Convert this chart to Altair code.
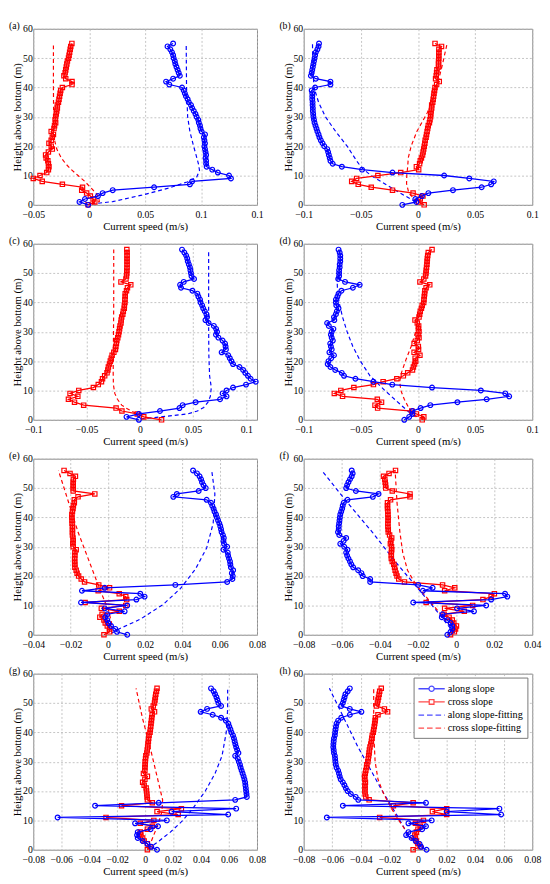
import altair as alt
import pandas as pd

FONT = "Liberation Serif, Times New Roman, serif"
BLUE = "#0000ff"
RED = "#ff0000"
Y_TICKS = [0, 10, 20, 30, 40, 50, 60]

# ---------------- panel (a) ----------------
A_H = list(range(0, 56))
A_ALONG = [-0.001, -0.0087, -0.0038, 0.0078, 0.012, 0.021, 0.058, 0.090, 0.092, 0.1267,
           0.125, 0.115, 0.110, 0.105, 0.1045, 0.1045, 0.104, 0.1045, 0.104, 0.1035,
           0.103, 0.1035, 0.103, 0.1025, 0.1035, 0.1005, 0.0995, 0.099, 0.098, 0.0975,
           0.096, 0.095, 0.0935, 0.092, 0.091, 0.089, 0.088, 0.0865, 0.0855, 0.0845,
           0.083, 0.0716, 0.0687, 0.075, 0.081, 0.080, 0.079, 0.078, 0.077, 0.0765,
           0.0755, 0.075, 0.074, 0.0725, 0.070, 0.075]
A_CROSS = [-0.001, 0.005, 0.0035, 0.001, -0.0023, -0.0067, -0.006, -0.024, -0.042, -0.050,
           -0.044, -0.038, -0.0365, -0.036, -0.0365, -0.037, -0.0385, -0.039, -0.0365, -0.033,
           -0.034, -0.036, -0.034, -0.033, -0.032, -0.034, -0.0315, -0.031, -0.030, -0.0305,
           -0.030, -0.0295, -0.029, -0.0285, -0.0285, -0.0275, -0.027, -0.0265, -0.026, -0.0255,
           -0.024, -0.0154, -0.0154, -0.021, -0.0226, -0.0215, -0.021, -0.0205, -0.020, -0.0195,
           -0.0185, -0.018, -0.0175, -0.017, -0.0165, -0.0155]
A_FA_H = [0.3, 1.1, 3.3, 5.6, 7.8, 9.4, 11.7, 13.9, 17, 20, 25, 30, 40, 55]
A_FA = [0.002, 0.021, 0.047, 0.070, 0.0875, 0.096, 0.0986, 0.0977, 0.0955, 0.0933, 0.090, 0.088, 0.087, 0.0867]
A_FC_H = [0.3, 1.1, 2.5, 4, 6, 8, 10, 12, 14, 16, 19, 22, 30, 40, 55]
A_FC = [0.002, 0.009, 0.0085, 0.006, 0.001, -0.004, -0.010, -0.016, -0.021, -0.025, -0.029, -0.031, -0.0318, -0.032, -0.032]
A_XDOM = [-0.05, 0.15]
A_XTICKS = [-0.05, 0, 0.05, 0.1, 0.15]

# ---------------- panel (b) ----------------
B_H = list(range(0, 56))
B_ALONG = [-0.0137, -0.0014, -0.0023, 0.0034, 0.0091, 0.0306, 0.0557, 0.064, 0.0663, 0.0449,
           0.0229, -0.0223, -0.0489, -0.0666, -0.0746, -0.0766, -0.0772, -0.078, -0.0786, -0.0794,
           -0.082, -0.0835, -0.085, -0.0862, -0.087, -0.088, -0.0888, -0.0897, -0.0905, -0.091,
           -0.0915, -0.0917, -0.092, -0.092, -0.0922, -0.0922, -0.0925, -0.0925, -0.0925, -0.093,
           -0.090, -0.0766, -0.0766, -0.0894, -0.0937, -0.093, -0.0925, -0.092, -0.0915, -0.091,
           -0.0905, -0.090, -0.0894, -0.088, -0.087, -0.0866]
B_CROSS = [0.0054, 0.0006, 0.002, 0.0043, -0.0043, -0.0223, -0.0409, -0.0523, -0.058, -0.0537,
           -0.0351, -0.0151, 0.0006, -0.0014, 0.0014, 0.002, 0.003, 0.004, 0.0045, 0.005,
           0.0055, 0.006, 0.0063, 0.0071, 0.0075, 0.008, 0.0085, 0.009, 0.010, 0.0105,
           0.011, 0.0112, 0.0115, 0.012, 0.012, 0.0129, 0.0133, 0.0137, 0.014, 0.0145,
           0.0149, 0.0163, 0.0186, 0.0154, 0.016, 0.0163, 0.0166, 0.018, 0.018, 0.018,
           0.0182, 0.0182, 0.0183, 0.0183, 0.0206, 0.0149]
B_FA_H = [1, 3, 6, 10, 12.5, 15, 20, 25, 30, 35, 40, 47, 55]
B_FA = [-0.002, -0.011, -0.024, -0.041, -0.049, -0.0537, -0.062, -0.072, -0.081, -0.087, -0.091, -0.092, -0.0923]
B_FC_H = [1, 2.2, 4, 7.2, 10, 13, 16, 20, 25, 31.5, 37, 42.5, 48, 55]
B_FC = [-0.001, -0.0037, -0.008, -0.010, -0.0098, -0.009, -0.0085, -0.006, -0.001, 0.0083, 0.0135, 0.018, 0.0215, 0.0255]
B_XDOM = [-0.1, 0.1]
B_XTICKS = [-0.1, -0.05, 0, 0.05, 0.1]

# ---------------- panel (c) ----------------
C_H = list(range(0, 59))
C_ALONG = [-0.0009, -0.0125, -0.0009, 0.0189, 0.0372, 0.0402, 0.0524, 0.0753, 0.0814, 0.0777,
           0.0814, 0.0875, 0.0997, 0.1088, 0.104, 0.1015, 0.099, 0.097, 0.0936, 0.0875,
           0.086, 0.0845, 0.083, 0.0768, 0.0808, 0.0805, 0.080, 0.0777, 0.0738, 0.0715,
           0.0725, 0.0716, 0.0695, 0.0646, 0.0616, 0.0631, 0.0625, 0.061, 0.0595, 0.0585,
           0.057, 0.0565, 0.055, 0.054, 0.0494, 0.0387, 0.0378, 0.0412, 0.0509, 0.0485,
           0.048, 0.0475, 0.047, 0.046, 0.045, 0.0445, 0.0435, 0.0418, 0.0396]
C_CROSS = [0.0204, 0.0037, -0.0024, -0.0168, -0.0223, -0.0527, -0.0613, -0.067, -0.0582, -0.0655,
           -0.0573, -0.0436, -0.039, -0.036, -0.035, -0.033, -0.0308, -0.030, -0.0295, -0.0285,
           -0.0277, -0.0268, -0.026, -0.0244, -0.0229, -0.0225, -0.022, -0.0216, -0.0207, -0.020,
           -0.0195, -0.019, -0.0186, -0.0177, -0.0175, -0.017, -0.016, -0.0155, -0.0146, -0.0145,
           -0.014, -0.014, -0.0137, -0.0137, -0.0125, -0.0116, -0.0085, -0.0177, -0.013, -0.0125,
           -0.0122, -0.0122, -0.012, -0.012, -0.012, -0.012, -0.012, -0.012, -0.0122]
C_FA_H = [0.3, 1, 2, 3, 4.2, 6, 8, 11, 15, 22, 32, 45, 58]
C_FA = [0.001, 0.02, 0.0448, 0.054, 0.060, 0.064, 0.0662, 0.0671, 0.0655, 0.0648, 0.0646, 0.0646, 0.0646]
C_FC_H = [0.5, 1, 2, 3, 4, 5, 7, 9, 12, 16, 25, 40, 58]
C_FC = [0.008, 0.004, -0.002, -0.008, -0.013, -0.017, -0.021, -0.0235, -0.0248, -0.025, -0.0248, -0.0245, -0.0245]
C_XDOM = [-0.1, 0.11]
C_XTICKS = [-0.1, -0.05, 0, 0.05, 0.1]

# ---------------- panel (d) ----------------
D_H = list(range(0, 59))
D_ALONG = [-0.012, -0.0077, -0.0048, -0.0048, 0.0023, 0.0108, 0.0345, 0.0601, 0.0798, 0.0764,
           0.055, 0.0123, -0.0225, -0.039, -0.0547, -0.0647, -0.0667, -0.0724, -0.0766, -0.079,
           -0.0783, -0.076, -0.0735, -0.0775, -0.0755, -0.0762, -0.0768, -0.0745, -0.0755, -0.0762,
           -0.0755, -0.074, -0.078, -0.0795, -0.0732, -0.0735, -0.0718, -0.071, -0.0695, -0.0715,
           -0.0718, -0.0718, -0.0705, -0.0695, -0.067, -0.057, -0.051, -0.0638, -0.0698, -0.069,
           -0.069, -0.069, -0.0685, -0.0685, -0.068, -0.068, -0.068, -0.0685, -0.0695]
D_CROSS = [0.0037, 0.0051, -0.0014, -0.0054, -0.0353, -0.0376, -0.0319, -0.0356, -0.066, -0.0732,
           -0.0675, -0.0561, -0.039, -0.0305, -0.0185, -0.0128, -0.009, -0.0048, -0.004, -0.003,
           -0.002, -0.0025, 0.0017, -0.0034, 0.0005, 0.0003, -0.0034, -0.0006, 0.0009, 0.0,
           0.0009, 0.0003, 0.0006, -0.0006, -0.0026, 0.0009, 0.0015, 0.002, 0.003, 0.0037,
           0.005, 0.0052, 0.0055, 0.0058, 0.006, 0.0071, 0.0103, 0.0017, 0.0051, 0.0066,
           0.007, 0.0072, 0.0075, 0.0078, 0.008, 0.0082, 0.0085, 0.009, 0.0123]
D_FA_H = [1, 2, 5, 10, 15, 20, 25, 30, 35, 40, 45, 50]
D_FA = [-0.002, -0.006, -0.0148, -0.029, -0.042, -0.0504, -0.057, -0.062, -0.066, -0.069, -0.0705, -0.071]
D_FC_H = [1, 2, 4, 7, 10, 13, 16, 20, 25, 30, 36]
D_FC = [-0.001, -0.004, -0.008, -0.012, -0.015, -0.016, -0.0145, -0.011, -0.006, -0.002, 0.001]
D_XDOM = [-0.1, 0.1]
D_XTICKS = [-0.1, -0.05, 0, 0.05, 0.1]

# ---------------- panel (e) ----------------
E_H = list(range(0, 57))
E_ALONG = [0.0104, 0.0049, 0.004, 0.0017, 0.0003, -0.0003, -0.0014, -0.0003, 0.009, -0.0017,
           0.0104, -0.0144, 0.0153, 0.0197, 0.0174, -0.0139, -0.0017, 0.0362, 0.064, 0.0668,
           0.067, 0.0665, 0.0672, 0.066, 0.0657, 0.0655, 0.065, 0.0645, 0.0643, 0.062,
           0.064, 0.0623, 0.062, 0.0622, 0.0617, 0.061, 0.0607, 0.0603, 0.0598, 0.0591,
           0.0585, 0.058, 0.0572, 0.0567, 0.056, 0.0553, 0.053, 0.0351, 0.037, 0.0487,
           0.0525, 0.0513, 0.0505, 0.050, 0.0492, 0.0478, 0.0457]
E_CROSS = [-0.0021, 0.0009, 0.0009, -0.0003, -0.0014, -0.0021, -0.0043, -0.0031, 0.0061, -0.0035,
           0.0096, -0.0122, 0.0101, 0.0096, 0.0061, -0.0052, 0.0009, -0.0049, -0.0125, -0.0143,
           -0.0157, -0.0165, -0.017, -0.0177, -0.0177, -0.0178, -0.0178, -0.0177, -0.0177, -0.017,
           -0.0186, -0.0188, -0.0186, -0.0187, -0.019, -0.019, -0.019, -0.019, -0.0192, -0.0192,
           -0.0193, -0.0193, -0.019, -0.0187, -0.0185, -0.018, -0.018, -0.016, -0.007, -0.0186,
           -0.0186, -0.0186, -0.0186, -0.0185, -0.0174, -0.0203, -0.0235]
E_FA_H = [0.5, 2, 5.3, 10.3, 15.8, 22.4, 29.6, 38, 48, 56]
E_FA = [0.002, 0.006, 0.0174, 0.0296, 0.039, 0.047, 0.053, 0.0565, 0.0574, 0.0557]
E_FC_H = [1, 4, 8, 15, 25, 35, 45, 56]
E_FC = [0.002, 0.002, 0.0005, -0.004, -0.010, -0.016, -0.021, -0.0265]
E_XDOM = [-0.04, 0.08]
E_XTICKS = [-0.04, -0.02, 0, 0.02, 0.04, 0.06, 0.08]

# ---------------- panel (f) ----------------
F_H = list(range(0, 57))
F_ALONG = [-0.0046, -0.0029, -0.002, -0.002, -0.0029, -0.0046, -0.0075, -0.0071, 0.0094, 0.0005,
           0.0158, -0.0225, 0.0184, 0.0269, 0.0257, -0.0174, -0.0123, -0.0199, -0.0451, -0.0451,
           -0.049, -0.0497, -0.0514, -0.054, -0.055, -0.0557, -0.0565, -0.0572, -0.0577, -0.057,
           -0.0587, -0.0608, -0.059, -0.0577, -0.0613, -0.062, -0.0616, -0.0616, -0.0614, -0.0612,
           -0.061, -0.0608, -0.0603, -0.0598, -0.0595, -0.059, -0.057, -0.0437, -0.0407, -0.0526,
           -0.0577, -0.0572, -0.0565, -0.0557, -0.0548, -0.0543, -0.0548]
F_CROSS = [-0.0029, -0.0009, -0.0003, 0.0002, -0.0012, -0.002, -0.0037, -0.0063, 0.0043, -0.006,
           0.0087, -0.0157, 0.0141, 0.0184, 0.0201, -0.006, -0.0007, -0.0071, -0.0271, -0.0301,
           -0.031, -0.0315, -0.032, -0.0323, -0.0327, -0.0335, -0.034, -0.034, -0.034, -0.0338,
           -0.0339, -0.0345, -0.0342, -0.0338, -0.0349, -0.0356, -0.0356, -0.0358, -0.0358, -0.0357,
           -0.0357, -0.0358, -0.0358, -0.036, -0.036, -0.036, -0.0344, -0.0242, -0.0242, -0.0335,
           -0.0369, -0.037, -0.0372, -0.0374, -0.0381, -0.0352, -0.0318]
F_FA_H = [0.5, 3, 8, 15, 25, 35, 45, 56]
F_FA = [-0.0005, -0.004, -0.010, -0.019, -0.032, -0.044, -0.057, -0.0705]
F_FC_H = [1, 3, 7, 12, 17, 22, 28, 35, 45, 56]
F_FC = [-0.001, -0.003, -0.008, -0.0145, -0.021, -0.0255, -0.028, -0.0295, -0.031, -0.032]
F_XDOM = [-0.08, 0.04]
F_XTICKS = [-0.08, -0.06, -0.04, -0.02, 0, 0.02, 0.04]

# ---------------- panel (g) ----------------
G_H = list(range(0, 56))
G_ALONG = [0.0085, 0.0044, 0.0016, -0.0018, -0.0053, -0.0058, -0.0053, 0.0039, 0.0092, -0.0072,
           0.0155, -0.0626, 0.0594, 0.0189, 0.0651, -0.0358, 0.0097, 0.0644, 0.0727, 0.0725,
           0.0722, 0.072, 0.0717, 0.0715, 0.071, 0.0704, 0.0697, 0.069, 0.0683, 0.0678,
           0.067, 0.0663, 0.0644, 0.0667, 0.0658, 0.0651, 0.0645, 0.064, 0.0635, 0.0628,
           0.0617, 0.061, 0.0602, 0.0595, 0.0577, 0.0543, 0.0483, 0.0397, 0.0443, 0.0543,
           0.0524, 0.0517, 0.051, 0.050, 0.049, 0.0471]
G_CROSS = [0.0016, 0.0035, 0.0016, -0.0007, -0.0018, -0.003, -0.0035, 0.0016, 0.0051, -0.0035,
           0.0062, -0.028, 0.0236, 0.0085, 0.0259, -0.0169, 0.0051, 0.0016, 0.0014, 0.0012,
           0.001, 0.0007, -0.0007, -0.0018, -0.0002, 0.0016, -0.0012, -0.0002, -0.0002, 0.0,
           0.0, 0.0003, 0.0005, 0.0012, 0.0015, 0.0018, 0.002, 0.0023, 0.0025, 0.0028,
           0.0035, 0.0037, 0.004, 0.0042, 0.0045, 0.0047, 0.005, 0.0067, 0.0044, 0.0058,
           0.0067, 0.007, 0.0073, 0.0076, 0.0081, 0.0085]
G_FA_H = [0.3, 3, 6, 10, 14, 20, 26, 32, 40, 48, 55]
G_FA = [0.002, 0.010, 0.018, 0.027, 0.034, 0.043, 0.050, 0.055, 0.058, 0.059, 0.059]
G_FC_H = [1, 3, 6, 9, 13, 17, 22, 28, 35, 45, 55]
G_FC = [0.002, 0.0045, 0.007, 0.0095, 0.012, 0.0125, 0.010, 0.007, 0.0035, -0.002, -0.0065]
G_XDOM = [-0.08, 0.08]
G_XTICKS = [-0.08, -0.06, -0.04, -0.02, 0, 0.02, 0.04, 0.06, 0.08]

# ---------------- panel (h) ----------------
H_H = list(range(0, 56))
H_ALONG = [0.006, 0.0022, 0.0011, -0.0016, -0.0045, -0.0083, -0.0067, 0.0029, 0.0056, -0.0067,
           0.0096, -0.0638, 0.0582, 0.0201, 0.057, -0.0526, 0.0056, -0.0418, -0.0436, -0.047,
           -0.0492, -0.0505, -0.0515, -0.0526, -0.0541, -0.0548, -0.0553, -0.0559, -0.057, -0.0575,
           -0.0578, -0.058, -0.0582, -0.0588, -0.059, -0.0593, -0.0592, -0.059, -0.0588, -0.0582,
           -0.058, -0.0577, -0.0574, -0.057, -0.0559, -0.0537, -0.0477, -0.0396, -0.0477, -0.0537,
           -0.0526, -0.052, -0.0514, -0.0508, -0.0492, -0.0477]
H_CROSS = [-0.0034, 0.0016, 0.0, -0.0011, -0.0018, -0.0022, -0.0011, 0.0, 0.0016, -0.0018,
           0.0038, -0.0268, 0.0201, 0.0101, 0.0201, -0.0172, -0.0034, -0.0342, -0.0365, -0.037,
           -0.0372, -0.037, -0.0372, -0.0368, -0.0372, -0.0374, -0.0369, -0.0365, -0.036, -0.0358,
           -0.0351, -0.0348, -0.0345, -0.0342, -0.034, -0.0336, -0.033, -0.0326, -0.0323, -0.032,
           -0.0313, -0.031, -0.0306, -0.0303, -0.03, -0.0298, -0.028, -0.0213, -0.0235, -0.0291,
           -0.0284, -0.028, -0.0276, -0.0272, -0.0268, -0.0257]
H_FA_H = [1.4, 6, 12, 20, 28, 35, 45, 55]
H_FA = [-0.001, -0.008, -0.015, -0.025, -0.034, -0.042, -0.052, -0.062]
H_FC_H = [1.4, 5, 9, 14, 19, 24, 30, 40, 55]
H_FC = [-0.001, -0.0065, -0.012, -0.0185, -0.024, -0.028, -0.030, -0.031, -0.031]
H_XDOM = [-0.08, 0.08]
H_XTICKS = [-0.08, -0.06, -0.04, -0.02, 0, 0.02, 0.04, 0.06, 0.08]

# ---------------- legend ----------------
LEG_LABELS = ["along slope", "cross slope", "along slope-fitting", "cross slope-fitting"]
LEG_COLORS = [BLUE, RED, BLUE, RED]
P_ALONG = "M-2,0L-0.4,0M0.4,0L2,0M-0.4,0A0.4,0.4,0,1,1,0.4,0A0.4,0.4,0,1,1,-0.4,0"
P_CROSS = "M-2,0L-0.36,0M0.36,0L2,0M-0.36,-0.36L0.36,-0.36L0.36,0.36L-0.36,0.36Z"
P_FIT = "M-2,0L-1.15,0M-0.7,0L0.15,0M0.6,0L1.45,0M1.9,0L2,0"
LEG_SHAPES = [P_ALONG, P_CROSS, P_FIT, P_FIT]

PLOT_H = 181


def panel(label, h, along, cross, fah, fa, fch, fc, xdom, xticks, width, legend=False):
    xs = alt.Scale(domain=xdom, nice=False, zero=False)
    ys = alt.Scale(domain=[0, 60], nice=False, zero=False)
    xax = alt.Axis(values=xticks, format="~g", title="Current speed (m/s)")
    yax = alt.Axis(values=Y_TICKS, title="Height above bottom (m)")

    def enc(c):
        return c.encode(
            x=alt.X("v:Q", scale=xs, axis=xax),
            y=alt.Y("h:Q", scale=ys, axis=yax),
            order=alt.Order("h:Q"),
        )

    df_a = pd.DataFrame({"h": h, "v": along})
    df_c = pd.DataFrame({"h": h, "v": cross})
    df_fa = pd.DataFrame({"h": fah, "v": fa})
    df_fc = pd.DataFrame({"h": fch, "v": fc})

    layers = [
        enc(alt.Chart(df_fa).mark_line(color=BLUE, strokeDash=[4, 3], strokeWidth=1.2)),
        enc(alt.Chart(df_fc).mark_line(color=RED, strokeDash=[4, 3], strokeWidth=1.2)),
        enc(alt.Chart(df_c).mark_line(color=RED, strokeWidth=1.3)),
        enc(alt.Chart(df_c).mark_point(shape="square", color=RED, size=20, strokeWidth=1.2, filled=False, opacity=1)),
        enc(alt.Chart(df_a).mark_line(color=BLUE, strokeWidth=1.3)),
        enc(alt.Chart(df_a).mark_point(shape="circle", color=BLUE, size=24, strokeWidth=1.2, filled=False, opacity=1)),
        alt.Chart(pd.DataFrame({"t": [label]})).mark_text(
            font=FONT, fontSize=10, align="left", baseline="middle", color="black"
        ).encode(x=alt.value(-25), y=alt.value(-3), text="t:N"),
    ]
    if legend:
        leg_def = alt.Legend(
            title=None, orient="none", legendX=113, legendY=4,
            labelFont=FONT, labelFontSize=10.5, labelColor="black",
            symbolSize=182, symbolStrokeWidth=1.3, symbolOffset=7, labelOffset=9,
            padding=4, rowPadding=0.5, strokeColor="#777", fillColor="white",
        )
        leg = alt.Chart(pd.DataFrame({"s": LEG_LABELS})).transform_filter("false").mark_point(
            filled=False, strokeWidth=1.3
        ).encode(
            x=alt.value(0), y=alt.value(0),
            color=alt.Color("s:N", scale=alt.Scale(domain=LEG_LABELS, range=LEG_COLORS), legend=leg_def),
            shape=alt.Shape("s:N", scale=alt.Scale(domain=LEG_LABELS, range=LEG_SHAPES), legend=leg_def),
        )
        layers.append(leg)
    return alt.layer(*layers).properties(width=width, height=PLOT_H)


WL = 230
WR = 235
panels = [
    panel("(a)", A_H, A_ALONG, A_CROSS, A_FA_H, A_FA, A_FC_H, A_FC, A_XDOM, A_XTICKS, WL),
    panel("(b)", B_H, B_ALONG, B_CROSS, B_FA_H, B_FA, B_FC_H, B_FC, B_XDOM, B_XTICKS, WR),
    panel("(c)", C_H, C_ALONG, C_CROSS, C_FA_H, C_FA, C_FC_H, C_FC, C_XDOM, C_XTICKS, WL),
    panel("(d)", D_H, D_ALONG, D_CROSS, D_FA_H, D_FA, D_FC_H, D_FC, D_XDOM, D_XTICKS, WR),
    panel("(e)", E_H, E_ALONG, E_CROSS, E_FA_H, E_FA, E_FC_H, E_FC, E_XDOM, E_XTICKS, WL),
    panel("(f)", F_H, F_ALONG, F_CROSS, F_FA_H, F_FA, F_FC_H, F_FC, F_XDOM, F_XTICKS, WR),
    panel("(g)", G_H, G_ALONG, G_CROSS, G_FA_H, G_FA, G_FC_H, G_FC, G_XDOM, G_XTICKS, WL),
    panel("(h)", H_H, H_ALONG, H_CROSS, H_FA_H, H_FA, H_FC_H, H_FC, H_XDOM, H_XTICKS, WR, legend=True),
]

chart = alt.concat(*panels, columns=2, spacing={"row": 3, "column": 12}).resolve_legend(
    color="independent", shape="independent"
).properties(
    padding=0, background="white"
).configure(font=FONT).configure_view(
    stroke="#8a8a8a", strokeWidth=1
).configure_axis(
    labelFont=FONT, titleFont=FONT, labelFontSize=10, titleFontSize=11,
    labelColor="black", titleColor="black", titleFontWeight="normal",
    grid=True, gridColor="#b4b4b4", gridDash=[2, 2], gridWidth=0.8,
    domain=False, ticks=False, labelPadding=2, titlePadding=1, labelFlush=False,
).configure_axisX(labelPadding=5, titlePadding=1).configure_axisY(titleFontSize=11, titlePadding=0, labelPadding=1)

chart.save("out.html", embed_options={"renderer": "svg", "actions": False})
